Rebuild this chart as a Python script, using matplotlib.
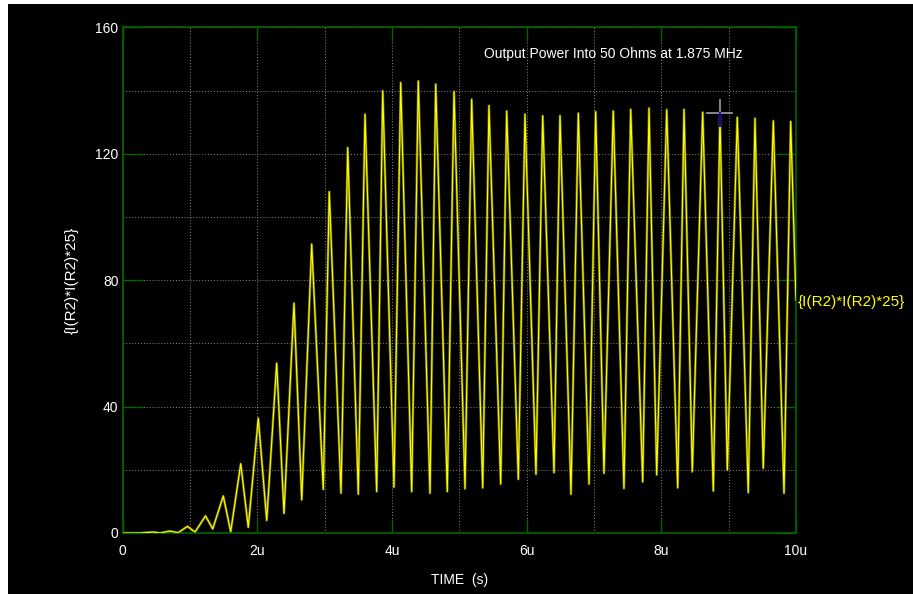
import matplotlib
matplotlib.use("Agg")
import matplotlib.pyplot as plt
from matplotlib.patches import Rectangle
from matplotlib.ticker import MultipleLocator, FuncFormatter

plt.rcParams['font.family'] = ['Liberation Sans', 'DejaVu Sans']

# Transient simulation trace: power into the 50 ohm load, I(R2)^2*25
time_us = [
    0.000, 0.257, 0.450, 0.554, 0.703, 0.821, 0.962, 1.074, 1.230, 1.337,
    1.494, 1.604, 1.753, 1.865, 2.014, 2.139, 2.287, 2.396, 2.544, 2.659,
    2.807, 2.979, 3.068, 3.242, 3.342, 3.499, 3.599, 3.772, 3.862, 4.029,
    4.129, 4.292, 4.390, 4.564, 4.649, 4.821, 4.921, 5.084, 5.183, 5.347,
    5.440, 5.614, 5.703, 5.876, 5.975, 6.138, 6.238, 6.406, 6.495, 6.658,
    6.767, 6.926, 7.025, 7.148, 7.286, 7.445, 7.545, 7.723, 7.817, 7.931,
    8.080, 8.243, 8.337, 8.460, 8.614, 8.772, 8.871, 8.980, 9.128, 9.291,
    9.391, 9.514, 9.663, 9.822, 9.921, 10.000,
]
power_w = [
    0.0, 0.0, 0.3, 0.0, 0.6, 0.05, 2.1, 0.3, 5.4, 1.3,
    11.7, 0.4, 21.9, 1.8, 36.3, 4.0, 53.7, 6.2, 72.7, 10.5,
    91.4, 13.8, 108.0, 12.6, 121.9, 12.3, 132.5, 13.1, 139.9, 14.5,
    142.5, 13.1, 143.0, 12.6, 142.0, 13.1, 139.7, 14.0, 137.2, 14.3,
    135.2, 15.5, 133.5, 17.0, 132.5, 18.6, 132.0, 19.1, 132.0, 12.3,
    132.8, 15.5, 133.3, 18.9, 133.5, 14.1, 134.0, 16.2, 134.4, 18.4,
    133.9, 14.3, 134.0, 19.4, 133.1, 13.3, 132.3, 19.9, 131.5, 12.8,
    131.2, 20.5, 130.4, 12.6, 130.2, 73.7,
]

trace_name = "{I(R2)*I(R2)*25}"
title_text = "Output Power Into 50 Ohms at 1.875 MHz"
x_label = "TIME  (s)"
cursor_t = 8.871
cursor_v = 132.75

FS = 10
FS_NAME = 11
W, H = 913, 594
fig = plt.figure(figsize=(W / 100, H / 100), dpi=100, facecolor="white")
fig.patches.append(Rectangle((8 / W, 0), 1, (H - 4) / H, transform=fig.transFigure,
                             facecolor="black", edgecolor="none", zorder=-10))

ax = fig.add_axes([122.7 / W, 1 - 533 / H, 673.3 / W, 505.7 / H])
ax.set_zorder(1)
ax.set_facecolor("black")

green = "#006400"
for sp in ax.spines.values():
    sp.set_color(green)
    sp.set_linewidth(1.2)

ax.set_xlim(0, 10)
ax.set_ylim(0, 160)
ax.xaxis.set_major_locator(MultipleLocator(2))
ax.xaxis.set_minor_locator(MultipleLocator(1))
ax.yaxis.set_major_locator(MultipleLocator(40))
ax.yaxis.set_minor_locator(MultipleLocator(20))
ax.xaxis.set_major_formatter(FuncFormatter(lambda v, p: "0" if v == 0 else f"{v:g}u"))
ax.yaxis.set_major_formatter(FuncFormatter(lambda v, p: f"{v:g}"))

ax.tick_params(axis="x", which="major", direction="in", length=10, width=1,
               color=green, top=True, bottom=True, labelcolor="white",
               labelsize=FS, pad=8)
ax.tick_params(axis="y", which="major", direction="in", length=14.5, width=1,
               color=green, left=True, right=True, labelcolor="white",
               labelsize=FS, pad=3)
ax.tick_params(which="minor", length=0)

ax.grid(True, which="both", color="#8a8a8a", linewidth=0.7,
        linestyle=(0, (1, 2)), zorder=1)
ax.set_axisbelow(True)

# trace: dark olive halo under a bright yellow line
ax.plot(time_us, power_w, color="#6e6e00", linewidth=1.8, zorder=2)
ax.plot(time_us, power_w, color="#ffff00", linewidth=0.8, zorder=3)

# cursor cross
ax.plot([cursor_t - 0.197, cursor_t + 0.183], [cursor_v, cursor_v],
        color="#a0a0a0", linewidth=1.2, zorder=4)
ax.plot([cursor_t, cursor_t], [cursor_v, cursor_v + 4.2],
        color="#a0a0a0", linewidth=1.2, zorder=4)
ax.plot([cursor_t, cursor_t], [cursor_v, cursor_v - 3.9],
        color="#0000c0", linewidth=1.4, zorder=4)

ax.text(0.728, 0.947, title_text, transform=ax.transAxes, color="white",
        fontsize=FS, ha="center", va="center")

ax.set_xlabel(x_label, color="white", fontsize=FS, labelpad=11)
ax.set_ylabel(trace_name, color="white", fontsize=FS_NAME, labelpad=12)

# trace name at the end of the trace
ax.annotate(trace_name, xy=(time_us[-1], power_w[-1]), xytext=(2, -2),
            textcoords="offset pixels", color="#ffff00", fontsize=FS_NAME,
            ha="left", va="center", annotation_clip=False)

fig.savefig("out.png", dpi=100, facecolor=fig.get_facecolor())
